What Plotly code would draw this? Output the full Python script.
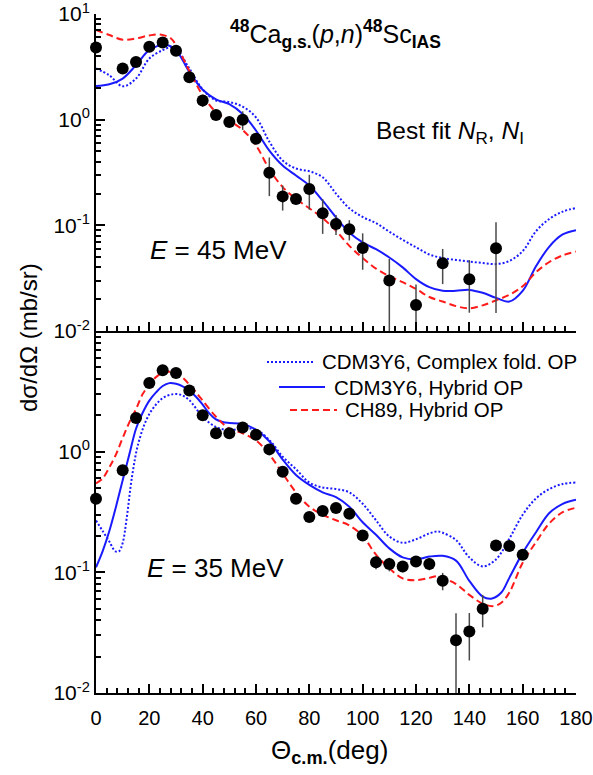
import plotly.graph_objects as go

# ---------------- data: E = 45 MeV (top panel) ----------------
exp45_x = [0, 10, 15, 20, 25, 30, 35, 40, 45, 50, 55, 60, 65, 70, 75, 80, 85, 90, 95, 100, 110, 120, 130, 140, 150]
exp45_y = [4.83, 3.05, 3.52, 4.9, 5.38, 4.48, 2.52, 1.52, 1.11, 0.95, 1.0, 0.66, 0.314, 0.188, 0.178, 0.221,
           0.130, 0.103, 0.092, 0.061, 0.030, 0.0176, 0.0438, 0.0309, 0.0608]
exp45_ep = [0.2, 0.12, 0.14, 0.2, 0.22, 0.18, 0.1, 0.2, 0.05, 0.05, 0.2, 0.04, 0.125, 0.05, 0.02, 0.08,
            0.047, 0.022, 0.02, 0.023, 0.018, 0.0099, 0.016, 0.016, 0.046]
exp45_em = [0.2, 0.12, 0.14, 0.2, 0.22, 0.18, 0.1, 0.2, 0.05, 0.05, 0.2, 0.04, 0.125, 0.05, 0.02, 0.08,
            0.047, 0.022, 0.02, 0.023, 0.022, 0.0095, 0.016, 0.016, 0.046]

cf45_x = [0, 5, 10, 15, 20, 25, 28, 30, 35, 40, 45, 50, 55, 60, 65, 70, 75, 80, 85, 90, 95, 100, 105, 110,
          115, 120, 125, 130, 135, 140, 145, 150, 155, 160, 165, 170, 175, 180]
cf45_y = [3.05, 2.63, 2.07, 2.45, 3.79, 4.55, 4.85, 4.72, 3.05, 1.93, 1.52, 1.47, 1.33, 1.05, 0.62, 0.41,
          0.345, 0.325, 0.285, 0.2, 0.145, 0.12, 0.105, 0.087, 0.073, 0.062, 0.053, 0.049, 0.047, 0.0455,
          0.044, 0.043, 0.046, 0.057, 0.088, 0.115, 0.135, 0.146]

hyb45_x = [0, 5, 10, 15, 20, 26, 30, 35, 40, 45, 50, 55, 60, 65, 70, 75, 80, 85, 90, 95, 100, 105, 110, 115,
           120, 125, 130, 135, 140, 145, 150, 155, 160, 165, 170, 175, 180]
hyb45_y = [2.08, 2.16, 2.45, 3.28, 4.55, 5.12, 4.55, 2.83, 1.92, 1.56, 1.40, 1.13, 0.79, 0.51, 0.368, 0.296,
           0.238, 0.171, 0.119, 0.0857, 0.0689, 0.0595, 0.0496, 0.040, 0.031, 0.026, 0.024, 0.024, 0.0245,
           0.023, 0.0206, 0.019, 0.024, 0.041, 0.063, 0.082, 0.090]

ch45_x = [0, 5, 10, 15, 20, 24, 28, 30, 35, 40, 45, 50, 55, 60, 65, 70, 75, 80, 85, 90, 95, 100, 105, 110,
          115, 120, 125, 130, 135, 140, 145, 150, 155, 160, 165, 170, 175, 180]
ch45_y = [7.05, 6.32, 5.7, 5.87, 6.27, 6.4, 5.9, 5.1, 2.9, 1.70, 1.18, 0.98, 0.80, 0.57, 0.34, 0.23, 0.178,
          0.145, 0.117, 0.089, 0.064, 0.049, 0.039, 0.033, 0.029, 0.025, 0.021, 0.019, 0.0172, 0.0164,
          0.0175, 0.0195, 0.022, 0.0265, 0.036, 0.045, 0.052, 0.0565]

# ---------------- data: E = 35 MeV (bottom panel) ----------------
exp35_x = [0, 10, 15, 20, 25, 30, 35, 40, 45, 50, 55, 60, 65, 70, 75, 80, 85, 90, 95, 100, 105, 110, 115,
           120, 125, 130, 135, 140, 145, 150, 155, 160]
exp35_y = [0.408, 0.703, 1.90, 3.71, 4.73, 4.49, 3.22, 2.0, 1.42, 1.42, 1.59, 1.38, 1.045, 0.681, 0.408,
           0.287, 0.322, 0.341, 0.306, 0.202, 0.121, 0.117, 0.112, 0.123, 0.117, 0.085, 0.0274, 0.0323,
           0.050, 0.167, 0.165, 0.140]
exp35_ep = [0.02, 0.03, 0.08, 0.15, 0.2, 0.2, 0.13, 0.08, 0.06, 0.06, 0.07, 0.06, 0.05, 0.03, 0.02, 0.015,
            0.015, 0.015, 0.015, 0.012, 0.015, 0.015, 0.012, 0.012, 0.013, 0.014, 0.0184, 0.0137, 0.015,
            0.015, 0.012, 0.01]
exp35_em = [0.02, 0.03, 0.08, 0.15, 0.2, 0.2, 0.13, 0.08, 0.06, 0.06, 0.07, 0.06, 0.05, 0.03, 0.02, 0.015,
            0.015, 0.015, 0.015, 0.012, 0.015, 0.015, 0.012, 0.012, 0.013, 0.014, 0.02, 0.0137, 0.015,
            0.015, 0.012, 0.01]

cf35_x = [0, 2.5, 5, 7.3, 8.7, 10, 11.5, 13.5, 16, 20, 25, 29, 32, 35, 40, 45, 50, 55, 60, 65, 70, 75, 80,
          85, 90, 95, 100, 105, 110, 115, 120, 125, 128, 130, 135, 140, 145, 150, 155, 160, 165, 170, 175, 180]
cf35_y = [0.269, 0.22, 0.18, 0.149, 0.15, 0.175, 0.28, 0.62, 1.2, 2.05, 2.78, 3.0, 2.95, 2.67, 1.95, 1.6,
          1.51, 1.56, 1.52, 1.25, 0.91, 0.716, 0.555, 0.505, 0.49, 0.46, 0.37, 0.27, 0.198, 0.176, 0.188,
          0.21, 0.218, 0.213, 0.185, 0.133, 0.112, 0.128, 0.19, 0.30, 0.41, 0.49, 0.54, 0.555]

hyb35_x = [0, 2.5, 5, 7.5, 10, 12.5, 15, 17.5, 20, 22.5, 25, 27.5, 30, 32.5, 35, 37.5, 40, 42.5, 45, 47.5,
           50, 55, 60, 65, 70, 75, 80, 85, 90, 95, 100, 105, 110, 115, 120, 125, 130, 135, 140, 145, 148.5,
           152, 155, 160, 165, 170, 175, 180]
hyb35_y = [0.110, 0.15, 0.22, 0.35, 0.58, 0.95, 1.55, 2.1, 2.65, 3.1, 3.5, 3.7, 3.65, 3.48, 3.2, 2.85, 2.45,
           2.08, 1.85, 1.76, 1.73, 1.70, 1.52, 1.22, 0.86, 0.64, 0.53, 0.46, 0.42, 0.35, 0.26, 0.205, 0.158,
           0.133, 0.128, 0.135, 0.137, 0.125, 0.085, 0.063, 0.0607, 0.068, 0.09, 0.145, 0.215, 0.31, 0.37, 0.40]

ch35_x = [0, 2.5, 5, 7.5, 10, 12.5, 15, 17.5, 20, 22.5, 25, 27.5, 30, 32.5, 35, 37.5, 40, 45, 50, 55, 60,
          65, 70, 75, 80, 85, 90, 95, 100, 105, 110, 115, 120, 125, 128, 130, 135, 140, 145, 149, 152, 155,
          160, 165, 170, 175, 180]
ch35_y = [0.545, 0.6, 0.74, 0.95, 1.3, 1.75, 2.25, 3.0, 3.6, 4.15, 4.5, 4.6, 4.45, 4.1, 3.6, 3.1, 2.65,
          1.95, 1.55, 1.42, 1.24, 0.95, 0.66, 0.46, 0.35, 0.30, 0.27, 0.245, 0.2, 0.14, 0.108, 0.089, 0.086,
          0.09, 0.093, 0.09, 0.08, 0.065, 0.055, 0.0525, 0.056, 0.068, 0.12, 0.178, 0.255, 0.315, 0.343]

# ---------------- ticks / labels ----------------
x_ticks = [0, 20, 40, 60, 80, 100, 120, 140, 160, 180]
y_ticks_top = [0.01, 0.1, 1, 10]
y_text_top = ["10<sup>-2</sup>", "10<sup>-1</sup>", "10<sup>0</sup>", "10<sup>1</sup>"]
y_ticks_bot = [0.01, 0.1, 1]
y_text_bot = ["10<sup>-2</sup>", "10<sup>-1</sup>", "10<sup>0</sup>"]
y_minor = [m * 10.0 ** e for e in (-2, -1, 0) for m in range(2, 10)]

legend_names = ["CDM3Y6, Complex fold. OP", "CDM3Y6, Hybrid OP", "CH89, Hybrid OP"]

BLUE = "#1a1aff"
RED = "#ff1a1a"
DOT = "2px,2px"
DASH = "7px,4px"
FONT = "Liberation Sans, Arial, sans-serif"

fig = go.Figure()


def add_panel(ya, cfx, cfy, hx, hy, chx, chy, ex, ey, ep, em):
    xa = "x" if ya == "y" else "x2"
    fig.add_trace(go.Scatter(x=cfx, y=cfy, mode="lines", line=dict(color=BLUE, width=2, dash=DOT, shape="spline"),
                             xaxis=xa, yaxis=ya, showlegend=False))
    fig.add_trace(go.Scatter(x=hx, y=hy, mode="lines", line=dict(color=BLUE, width=2, shape="spline"),
                             xaxis=xa, yaxis=ya, showlegend=False))
    fig.add_trace(go.Scatter(x=chx, y=chy, mode="lines", line=dict(color=RED, width=2, dash=DASH, shape="spline"),
                             xaxis=xa, yaxis=ya, showlegend=False))
    fig.add_trace(go.Scatter(x=ex, y=ey, mode="markers", marker=dict(color="black", size=12),
                             error_y=dict(type="data", array=ep, arrayminus=em, color="#4a4a4a",
                                          thickness=1.5, width=0),
                             xaxis=xa, yaxis=ya, showlegend=False, cliponaxis=False))


add_panel("y", cf45_x, cf45_y, hyb45_x, hyb45_y, ch45_x, ch45_y, exp45_x, exp45_y, exp45_ep, exp45_em)
add_panel("y2", cf35_x, cf35_y, hyb35_x, hyb35_y, ch35_x, ch35_y, exp35_x, exp35_y, exp35_ep, exp35_em)

split = 0.5331
xcommon = dict(range=[0, 180], tickvals=x_ticks, ticks="inside", ticklen=9, tickwidth=1.8, tickcolor="black",
               showline=True, linecolor="black", linewidth=2, showgrid=False, zeroline=False, automargin=False,
               ticklabeloverflow="allow",
               minor=dict(dtick=4, tick0=0, ticks="inside", ticklen=5, tickwidth=1.5, tickcolor="black",
                          showgrid=False),
               tickfont=dict(family=FONT, size=20, color="black"))
ycommon = dict(type="log", range=[-2, 1], ticks="inside", ticklen=9, tickwidth=1.8, tickcolor="black",
               showline=True, linecolor="black", linewidth=2, showgrid=False, zeroline=False, automargin=False,
               ticklabeloverflow="allow",
               minor=dict(tickmode="array", tickvals=y_minor, ticks="inside", ticklen=5, tickwidth=1.5,
                          tickcolor="black", showgrid=False),
               tickfont=dict(family=FONT, size=21, color="black"))

fig.update_layout(
    width=593, height=775,
    margin=dict(l=96, r=17, t=14, b=82),
    paper_bgcolor="white", plot_bgcolor="white",
    font=dict(family=FONT, color="black"),
    showlegend=False,
    xaxis=dict(**xcommon, anchor="y", showticklabels=False),
    yaxis=dict(**ycommon, domain=[split, 1], anchor="x", tickvals=y_ticks_top, ticktext=y_text_top),
    xaxis2=dict(**xcommon, anchor="y2", matches="x", ticklabelstandoff=6),
    yaxis2=dict(**ycommon, domain=[0, split], anchor="x2", tickvals=y_ticks_bot, ticktext=y_text_bot),
)

W, H, L, B = 480.0, 679.0, 96.0, 82.0


def px(xp):
    return (xp - L) / W


def py(yp):
    return (775 - B - yp) / H


ann = [
    dict(text="<b><sup>48</sup></b>Ca<sub><b>g.s.</b></sub>(<i>p</i>,<i>n</i>)<b><sup>48</sup></b>Sc<sub><b>IAS</b></sub>",
         x=px(335), y=py(34), size=25),
    dict(text="Best fit <i>N</i><sub>R</sub>, <i>N</i><sub>I</sub>", x=px(450), y=py(132), size=24.5),
    dict(text="<i>E</i> = 45 MeV", x=px(218), y=py(250), size=26),
    dict(text="<i>E</i> = 35 MeV", x=px(215), y=py(568), size=26),
    dict(text="Θ<sub><b>c.m.</b></sub>(deg)", x=px(329), y=py(752), size=26),
]
for a in ann:
    fig.add_annotation(text=a["text"], x=a["x"], y=a["y"], xref="paper", yref="paper", showarrow=False,
                       xanchor="center", yanchor="middle", font=dict(family=FONT, size=a["size"], color="black"))

fig.add_annotation(text="dσ/dΩ (mb/sr)", x=px(28), y=py(338), xref="paper", yref="paper", showarrow=False,
                   textangle=-90, xanchor="center", yanchor="middle",
                   font=dict(family=FONT, size=24, color="black"))

# legend (drawn as sample lines + labels)
leg = [(267, 313, 320, 362, BLUE, DOT), (279, 325, 332, 387, BLUE, "solid"), (290, 337, 343, 410, RED, DASH)]
for (x0, x1, xt, yy, col, dsh), name in zip(leg, legend_names):
    fig.add_shape(type="line", xref="paper", yref="paper", x0=px(x0), x1=px(x1), y0=py(yy), y1=py(yy),
                  line=dict(color=col, width=2, dash=dsh))
    fig.add_annotation(text=name, x=px(xt), y=py(yy), xref="paper", yref="paper", showarrow=False,
                       xanchor="left", yanchor="middle", font=dict(family=FONT, size=20.5, color="black"))

fig.write_html("out.html", config={"displayModeBar": False},
               post_script="document.body.style.margin='0';document.body.style.padding='0';")
